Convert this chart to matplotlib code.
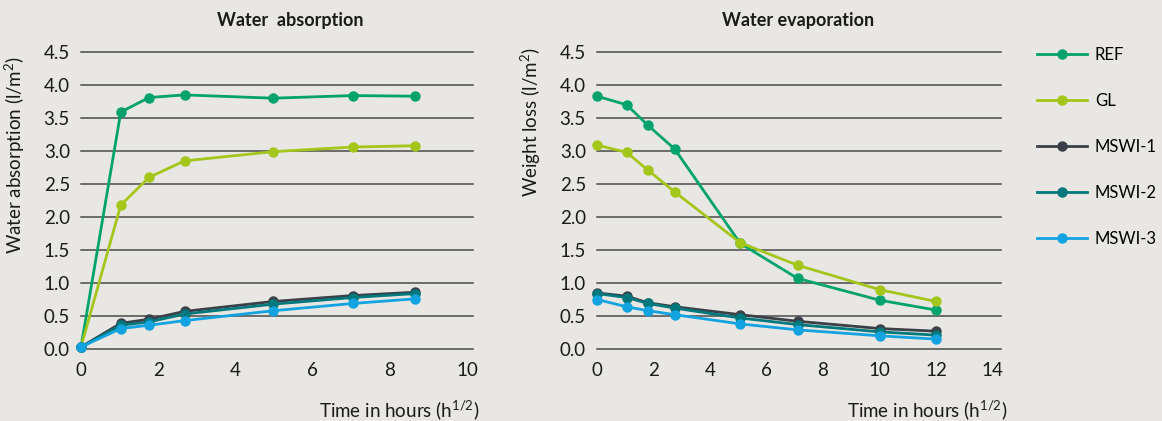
import matplotlib
matplotlib.use("Agg")
import matplotlib.pyplot as plt
from matplotlib.lines import Line2D

FONT = 'Lato'
plt.rcParams['font.family'] = [FONT, 'DejaVu Sans']
plt.rcParams['mathtext.fontset'] = 'custom'
plt.rcParams['mathtext.rm'] = FONT
plt.rcParams['mathtext.it'] = FONT

series_names = ["REF", "GL", "MSWI-1", "MSWI-2", "MSWI-3"]
colors = ["#00a36c", "#a4c61a", "#3b3f48", "#00797c", "#12a3e0"]

# Water absorption
abs_x = [0, 1.03, 1.76, 2.68, 4.98, 7.04, 8.65]
abs_ref = [0.03, 3.59, 3.81, 3.85, 3.80, 3.84, 3.83]
abs_gl = [0.03, 2.18, 2.60, 2.85, 2.99, 3.06, 3.08]
abs_m1 = [0.03, 0.39, 0.45, 0.57, 0.72, 0.81, 0.86]
abs_m2 = [0.03, 0.36, 0.41, 0.53, 0.68, 0.78, 0.84]
abs_m3 = [0.03, 0.31, 0.36, 0.43, 0.58, 0.69, 0.76]

# Water evaporation
eva_x = [0, 1.05, 1.8, 2.75, 5.07, 7.1, 10, 12]
eva_ref = [3.83, 3.70, 3.39, 3.03, 1.60, 1.07, 0.74, 0.59]
eva_gl = [3.09, 2.98, 2.71, 2.38, 1.61, 1.27, 0.90, 0.72]
eva_m1 = [0.85, 0.80, 0.70, 0.64, 0.52, 0.42, 0.31, 0.27]
eva_m2 = [0.84, 0.78, 0.69, 0.62, 0.47, 0.37, 0.26, 0.21]
eva_m3 = [0.75, 0.64, 0.58, 0.52, 0.38, 0.29, 0.20, 0.15]

yticks = [0.0, 0.5, 1.0, 1.5, 2.0, 2.5, 3.0, 3.5, 4.0, 4.5]
left_xticks = [0, 2, 4, 6, 8, 10]
right_xticks = [0, 2, 4, 6, 8, 10, 12, 14]

W, H = 1162, 421
bg = "#e8e7e3"
fig = plt.figure(figsize=(W / 100, H / 100), dpi=100, facecolor=bg)

axL = fig.add_axes([81 / W, 1 - 349 / H, 392 / W, 297 / H])
axR = fig.add_axes([597 / W, 1 - 349 / H, 404 / W, 297 / H])

def style(ax, xticks, xmax, data_x, series, title, ylabel, title_x, ylab_x, ylab_y):
    ax.set_facecolor(bg)
    for s in ax.spines.values():
        s.set_visible(False)
    ax.set_xlim(0, xmax)
    ax.set_ylim(0, 4.5)
    for yv in yticks:
        ax.axhline(yv, color="#4a4a4a", lw=1.1, zorder=1, clip_on=False)
    for ys, c in zip(series, colors):
        ax.plot(data_x, ys, color=c, lw=2.0, marker="o", ms=6.5, zorder=3, clip_on=False)
    ax.set_yticks(yticks)
    ax.set_yticklabels([f"{v:.1f}" for v in yticks])
    ax.set_xticks(xticks)
    ax.set_xticklabels([str(v) for v in xticks])
    ax.tick_params(axis="both", length=0, labelsize=13.5, colors="#1a1a1a")
    ax.tick_params(axis="y", pad=8)
    ax.tick_params(axis="x", pad=9)
    ax.set_title(title, fontsize=13, fontweight="bold", color="#1a1a1a", x=title_x, y=1.06)
    ax.set_ylabel(ylabel, fontsize=13.5, color="#1a1a1a")
    ax.yaxis.set_label_coords(ylab_x, ylab_y)
    ax.text(1.015, -0.205, "Time in hours (h$^{1/2}$)", transform=ax.transAxes,
            ha="right", va="center", fontsize=13.5, color="#1a1a1a")

style(axL, left_xticks, 10.15, abs_x, [abs_ref, abs_gl, abs_m1, abs_m2, abs_m3],
      "Water  absorption", "Water absorption (l/m$^2$)", 0.533, -0.138, 0.653)
style(axR, right_xticks, 14.3, eva_x, [eva_ref, eva_gl, eva_m1, eva_m2, eva_m3],
      "Water evaporation", "Weight loss (l/m$^2$)", 0.4975, -0.134, 0.764)

handles = [Line2D([0], [0], color=c, lw=2.0, marker="o", ms=6.5) for c in colors]
fig.legend(handles, series_names, loc="upper left", bbox_to_anchor=(1030 / W, 1 - 40 / H),
           frameon=False, fontsize=12, handlelength=3.0, labelspacing=1.8,
           handletextpad=0.5, borderaxespad=0)

fig.savefig("out.png", dpi=100, facecolor=bg)
